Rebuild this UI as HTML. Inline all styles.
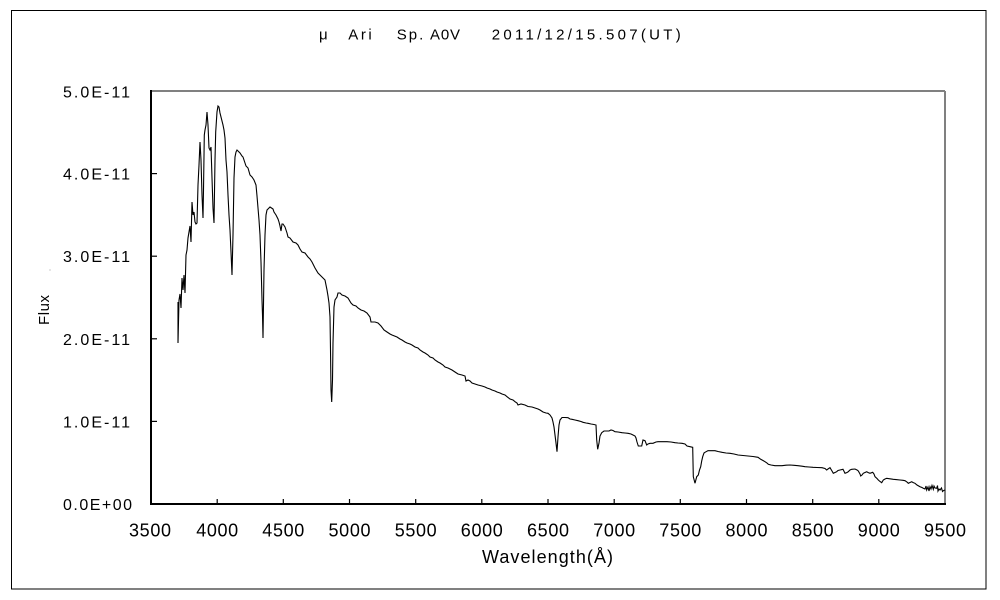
<!DOCTYPE html>
<html>
<head>
<meta charset="utf-8">
<style>
  html,body{margin:0;padding:0;background:#fff;}
  body{width:1000px;height:600px;overflow:hidden;}
  svg{display:block;}
  text{font-family:"Liberation Sans","Noto Sans CJK JP",sans-serif;fill:#000;}
</style>
</head>
<body>
<svg width="1000" height="600" viewBox="0 0 1000 600" xmlns="http://www.w3.org/2000/svg">
  <rect x="0" y="0" width="1000" height="600" fill="#fff"/>
  <!-- outer border -->
  <rect x="11.5" y="10.5" width="974.5" height="578.5" fill="none" stroke="#000" stroke-width="1"/>

  <!-- title -->
  <g font-size="15">
    <text x="319" y="39.5">μ</text>
    <text x="348.3" y="39.5" textLength="23.4">Ari</text>
    <text x="396.7" y="39.5" textLength="26.6">Sp.</text>
    <text x="430" y="39.5" textLength="30">A0V</text>
    <text x="491.7" y="39.5" textLength="189">2011/12/15.507(UT)</text>
  </g>

  <!-- plot frame -->
  <line x1="151" y1="91" x2="945" y2="91" stroke="#808080" stroke-width="2"/>
  <line x1="945" y1="91" x2="945" y2="504" stroke="#808080" stroke-width="2"/>
  <line x1="151" y1="90" x2="151" y2="505" stroke="#000" stroke-width="2"/>
  <line x1="150" y1="504" x2="946" y2="504" stroke="#000" stroke-width="2"/>

  <!-- y ticks -->
  <g stroke="#000" stroke-width="1.2">
    <line x1="151" y1="421.4" x2="157" y2="421.4"/>
    <line x1="151" y1="338.8" x2="157" y2="338.8"/>
    <line x1="151" y1="256.2" x2="157" y2="256.2"/>
    <line x1="151" y1="173.6" x2="157" y2="173.6"/>
  </g>
  <!-- x ticks -->
  <g stroke="#000" stroke-width="1.2">
    <line x1="217.2" y1="504" x2="217.2" y2="499"/>
    <line x1="283.3" y1="504" x2="283.3" y2="499"/>
    <line x1="349.5" y1="504" x2="349.5" y2="499"/>
    <line x1="415.7" y1="504" x2="415.7" y2="499"/>
    <line x1="481.8" y1="504" x2="481.8" y2="499"/>
    <line x1="548" y1="504" x2="548" y2="499"/>
    <line x1="614.2" y1="504" x2="614.2" y2="499"/>
    <line x1="680.3" y1="504" x2="680.3" y2="499"/>
    <line x1="746.5" y1="504" x2="746.5" y2="499"/>
    <line x1="812.7" y1="504" x2="812.7" y2="499"/>
    <line x1="878.8" y1="504" x2="878.8" y2="499"/>
  </g>

  <!-- y labels -->
  <g font-size="16">
    <text x="63" y="97.5" textLength="67">5.0E-11</text>
    <text x="63" y="179.6" textLength="67">4.0E-11</text>
    <text x="63" y="262.2" textLength="67">3.0E-11</text>
    <text x="63" y="344.8" textLength="67">2.0E-11</text>
    <text x="63" y="427.4" textLength="67">1.0E-11</text>
    <text x="63" y="510" textLength="69">0.0E+00</text>
  </g>

  <!-- x labels -->
  <g font-size="18">
    <text x="129" y="536.5" textLength="42">3500</text>
    <text x="196.2" y="536.5" textLength="42">4000</text>
    <text x="262.3" y="536.5" textLength="42">4500</text>
    <text x="328.5" y="536.5" textLength="42">5000</text>
    <text x="394.7" y="536.5" textLength="42">5500</text>
    <text x="460.8" y="536.5" textLength="42">6000</text>
    <text x="527" y="536.5" textLength="42">6500</text>
    <text x="593.2" y="536.5" textLength="42">7000</text>
    <text x="659.3" y="536.5" textLength="42">7500</text>
    <text x="725.5" y="536.5" textLength="42">8000</text>
    <text x="791.7" y="536.5" textLength="42">8500</text>
    <text x="857.8" y="536.5" textLength="42">9000</text>
    <text x="924" y="536.5" textLength="42">9500</text>
  </g>

  <!-- axis titles -->
  <text x="482" y="563" font-size="18" textLength="131">Wavelength(Å)</text>
  <text transform="translate(49,325) rotate(-90)" x="0" y="0" font-size="15" textLength="30">Flux</text>
  <rect x="49.5" y="269.5" width="1" height="1" fill="#999"/>

  <!-- spectrum -->
  <path fill="none" stroke="#000" stroke-width="1.1" stroke-linejoin="miter" d="
M178,302 L178,343 L179,300 L180,294 L181,308 L182,278 L183,290 L184,275 L185,293 L186,255 L187,250 L188,238 L189,232 L190,226 L191,242 L192,202 L193,215 L194,212 L195,222 L196,224 L197,223 L198,185 L199,165 L200,142 L201,160 L202,195 L203,218 L203.5,190 L204.3,135 L205,130 L206,125 L207,112 L208,125 L209,148 L210,150 L211,147 L212,178 L213,208 L214,223 L215,160 L215.7,132 L217,112 L218,106 L219,107 L220,113 L221,117 L222,121 L223,125 L224,130 L225,138 L226,160 L227,172 L228,195 L229,215 L230,230 L231,252 L232,275 L233,235 L234,178 L235,157 L236,152 L237,150 L238,151 L240,153 L242,156 L243,157 L245,163 L246,166 L248,168 L250,175 L252,177 L254,180 L256,185 L257,196 L258,208 L259,220 L260,235 L261,262 L262,300 L262.5,315 L263,338 L264,270 L265,235 L266,215 L267,210 L270,207 L273,209 L274,212 L276,215 L278,219 L279,222 L280,226 L281,231 L282,224 L283,224 L285,227 L287,233 L288,237 L290,238 L293,242 L296,243 L298,245 L300,249 L302,252 L305,253 L308,257 L310,259 L312,262 L315,268 L318,273 L320,275 L322,277 L325,280 L326,285 L327,290 L328,296 L329,303 L330,317 L330.5,350 L331,390 L331.7,402 L332.5,380 L333,343 L334,307 L335,300 L337,297 L338,293 L340,293 L342,295 L345,296 L348,298 L351,303 L353,305 L356,306 L358,308 L361,310 L364,311 L367,313 L370,317 L371,322 L375,322 L378,323 L381,326 L384,330 L387,332 L390,334 L392,335 L397,337 L400,339 L402,340 L405,342 L407,343 L410,344 L412,345 L415,347 L418,348 L420,350 L423,352 L425,353 L428,355 L430,357 L433,358 L435,360 L438,362 L440,363 L443,365 L445,367 L448,368 L452,370 L455,372
L458,374 L462,375 L465,376 L466,381 L468,380 L470,381 L472,383 L475,384 L478,385 L482,386 L485,387 L487,388 L490,389 L492,390 L495,391 L497,392 L500,393 L502,394 L505,395 L507,396.7 L510,399 L513,400 L515,401.7 L517,403 L518,405 L521,404 L525,405 L528,406.5 L532,407 L535,408 L538,409 L540,410 L543,412 L546,413 L548,413.3 L550,415 L552,418 L553,422 L554,427 L555,435 L556,443 L557,451.7 L558,437 L559,425 L560,420 L562,417.5 L565,417.5 L568,417.7 L570,419 L572,419.3 L575,420 L578,420.7 L581,421.5 L583,422.3 L586,423 L588,423.3 L591,424 L594,424.5 L596,425 L596.7,440 L597.7,449.3 L599,443 L600,436 L601.7,432.7 L604,431 L607,431 L609,431 L611,430 L613,430.5 L615,431.7 L618,432 L622,432.7 L625,433 L628,433.3 L631,434 L633,435 L635,436 L636,438 L637,442 L638.3,446 L640,446 L641.7,446 L643,440 L645,440.7 L646.7,445 L648,444 L650,443.3 L653,443.3 L656,442 L658,441.7 L662,441.7 L667,441.7 L671,442 L675,442.7 L678,443 L682,443.3 L685,444 L687,446 L690,446.7 L692.7,447.3
L693.3,476.7 L695,483.3 L696.7,476.7 L698.3,475 L699.5,470 L700.7,466.7 L701.7,461 L702.7,456.7 L704,453 L705,452.3 L708,450.7 L712,450.7 L715,450.7 L718,451.5 L722,452.3 L726,453 L730,453.3 L734,454 L738,455 L743,455.5 L748,456 L753,456.5 L758,457.3 L760.7,459.3 L763,460.5 L765,461.7 L767,463 L768.3,464.3 L771,465 L775,465.7 L778,465.7 L782,465.7 L786,465.2 L790,465 L794,465.3 L798,465.7 L802,466.2 L805,466.7 L809,467 L813,467.3 L817,467.5 L822,467.7 L825,468.5 L826.7,470 L828,469 L830,467.7 L832,471 L833.3,473.3 L835,472.5 L836.7,471.7 L838,470.5 L840,470 L843,469.3 L845,473.3 L847,472.5 L848.3,471.7 L850,470 L851.7,469.3 L855,469 L857,470 L858.3,471 L860,474 L860.7,476 L862,475 L863.3,473.3 L865,472.5 L866.7,471.7 L868,472.5 L870,473.3 L872.7,472.3 L874,474 L875,476.7 L877,478.5 L878.3,480 L880,481.5 L881.7,482.7 L883.3,480 L885,479 L886.7,478.3 L890,478.8 L893.3,479.3 L896,479.6 L900,480 L903,480.3 L905,480.7 L907,482 L908.3,483.3 L910,482.5 L911.7,481.7 L913,482.5 L915,483.3 L917,485 L920,486.7 L922,487.5 L923.3,488.3 L925,489 L926,486 L926.7,490 L928,487 L929,491 L930,486.7 L931,489 L932,485.5 L933.3,489.3 L934,486 L935,488 L936.7,488.3 L937.5,485.5 L938,491 L939,489 L940,490 L941.5,488 L942.5,491.5 L943.3,490.7 L945,490"/>
</svg>
</body>
</html>
